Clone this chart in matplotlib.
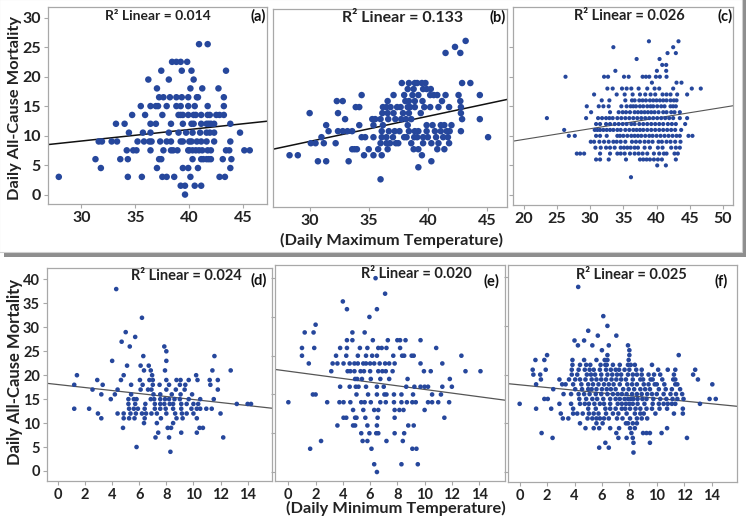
import matplotlib
matplotlib.use('Agg')
import matplotlib.pyplot as plt
from matplotlib.patches import Rectangle
import numpy as np

plt.rcParams['font.family'] = ['Lato', 'DejaVu Sans']
plt.rcParams['font.weight'] = 'bold'

# ---------------- data ----------------
# each panel: y levels and, for every level, the x values of the points on it
a_y = [25.5, 22.5, 21, 19.5, 18, 16.5, 15, 13.5, 12, 10.5, 9, 7.5, 6, 4.5, 3, 1.5, 0]
a_x = [
    [40.9, 41.7],
    [38.4, 38.8, 39.2, 39.8],
    [37.4, 39.3, 40.2, 43.4],
    [36.2, 38.1, 40.4],
    [37.0, 40.1, 41.2, 42.7],
    [37.2, 37.6, 38.2, 38.8, 39.3, 39.9, 40.7, 40.8, 43.2],
    [35.5, 36.4, 36.9, 37.1, 37.9, 38.8, 39.2, 39.9, 40.5, 41.7, 43.2],
    [34.7, 35.9, 37.5, 39.0, 39.2, 39.4, 39.9, 40.4, 40.6, 41.1, 41.7, 41.9, 42.5, 42.8, 43.2],
    [33.2, 34.0, 36.4, 36.9, 38.3, 39.4, 40.2, 40.4, 41.1, 41.6, 41.8, 42.0, 42.3, 43.8],
    [34.4, 35.7, 36.4, 38.1, 39.0, 39.7, 40.3, 41.0, 41.6, 41.9, 42.3, 44.7],
    [31.6, 31.9, 32.8, 33.3, 35.2, 35.8, 36.3, 36.5, 37.3, 37.9, 38.3, 39.2, 39.4, 40.0, 40.2,
     40.7, 41.1, 41.6, 42.3, 43.8],
    [34.2, 34.8, 35.1, 36.4, 37.6, 38.3, 38.5, 38.9, 39.9, 40.0, 40.3, 40.6, 40.9, 41.2, 41.7,
     42.0, 43.4, 43.7, 45.1, 45.6],
    [31.3, 33.6, 34.3, 37.2, 37.4, 40.3, 41.1, 41.3, 41.6, 41.8, 42.0, 43.1, 43.9],
    [31.8, 37.0, 39.4, 39.9, 40.8, 43.8],
    [27.9, 34.3, 35.6, 37.5, 37.9, 38.6, 40.1, 42.8, 43.3],
    [39.2, 39.6, 40.5, 41.1],
    [39.6],
]

b_y = [26, 25, 24, 19, 18, 17, 16, 15, 14, 13, 12, 11, 10, 9, 8, 7, 6, 5, 3]
b_x = [
    [43.2],
    [42.3],
    [41.5, 42.75],
    [37.8, 38.4, 38.9, 39.1, 39.5, 39.8, 42.9, 43.6],
    [38.3, 38.8, 39.6, 39.9, 40.25],
    [34.4, 37.1, 38.0, 38.7, 39.2, 40.2, 40.5, 40.8, 41.5, 42.6, 44.4],
    [32.3, 32.8, 36.6, 38.1, 38.4, 38.9, 39.55, 41.2, 42.75],
    [33.9, 34.2, 36.2, 36.5, 36.85, 37.4, 37.7, 38.3, 38.5, 38.9, 39.7, 40.2, 40.9, 41.8, 42.8],
    [30.0, 32.4, 36.15, 36.6, 37.1, 37.9, 38.4, 39.4, 42.8],
    [33.0, 35.3, 35.55, 36.0, 36.65, 37.25, 37.75, 38.15, 38.6, 42.9, 44.4],
    [31.4, 34.2, 35.4, 36.2, 38.3, 39.9, 40.4, 41.1, 41.4, 42.0],
    [31.6, 32.4, 32.8, 33.2, 33.6, 36.1, 36.7, 37.2, 37.6, 38.4, 38.9, 39.2, 39.9, 40.6, 41.1,
     41.6, 41.85, 42.8],
    [31.0, 34.4, 34.7, 35.4, 36.1, 36.5, 37.05, 38.0, 38.2, 38.85, 39.1, 39.6, 40.0, 40.7, 41.3,
     41.7, 45.1],
    [30.1, 30.5, 31.2, 32.2, 36.0, 36.5, 36.8, 37.3, 37.5, 38.6, 39.6, 40.3, 40.9, 41.8],
    [33.6, 33.8, 34.0, 35.0, 35.8, 36.6, 38.8, 39.2, 40.8, 41.4],
    [28.3, 29.0, 34.6, 35.4, 36.1, 39.5],
    [30.7, 31.4, 33.3, 40.3],
    [39.2],
    [36.0],
]

c_y = [26, 25, 24, 23, 22, 21, 20, 19, 18, 17, 16, 15, 14, 13, 12, 11, 10, 9, 8, 7, 6, 5, 3]
c_x = [
    [38.85, 43.3],
    [33.5, 42.5],
    [41.65, 42.9],
    [37.0, 40.45],
    [40.85, 41.45],
    [33.8, 40.05, 41.45],
    [26.3, 32.1, 32.7, 35.1, 35.8, 37.9, 38.4, 38.9, 39.9, 40.5, 41.5],
    [39.3, 43.0, 43.75],
    [32.6, 33.4, 34.8, 35.5, 36.2, 37.3, 38.6, 39.7, 40.4, 42.5, 45.3, 46.65],
    [30.6, 34.0, 35.2, 36.4, 37.5, 38.3, 39.1, 39.8, 40.9, 41.5, 42.1, 43.1, 44.6],
    [31.75, 32.9, 35.3, 36.3, 36.7, 37.4, 37.9, 38.4, 39.0, 39.5, 40.0, 40.5, 41.0, 41.5, 42.1,
     42.6, 43.0],
    [29.5, 31.3, 32.0, 32.8, 34.7, 35.5, 36.1, 36.5, 36.9, 37.5, 38.0, 38.6, 39.1, 39.5, 40.1,
     40.7, 41.2, 42.1, 42.5, 42.9],
    [30.15, 33.0, 34.3, 34.9, 35.4, 36.0, 36.7, 37.2, 37.7, 38.2, 38.7, 39.2, 39.7, 40.3, 41.0,
     41.5, 42.2, 42.7, 43.5],
    [23.5, 29.4, 31.2, 31.8, 32.4, 32.9, 33.4, 34.1, 34.7, 35.3, 35.9, 36.5, 37.1, 37.7, 38.3,
     38.9, 39.5, 40.1, 40.7, 41.3, 41.9, 42.5, 43.5, 44.6],
    [30.9, 31.5, 32.4, 33.0, 33.7, 34.3, 34.9, 35.5, 36.2, 36.7, 37.4, 38.0, 38.6, 39.2, 39.8,
     40.4, 41.0, 41.7, 42.3, 42.9, 44.3],
    [26.1, 30.7, 31.1, 31.5, 32.0, 32.5, 33.0, 33.5, 34.1, 34.6, 35.3, 35.9, 36.5, 37.0, 37.5,
     38.0, 38.6, 39.2, 39.8, 40.4, 41.0, 41.6, 42.2, 42.8, 43.7],
    [26.8, 27.7, 30.9, 31.5, 32.5, 34.1, 34.5, 35.0, 35.6, 36.2, 36.7, 37.2, 37.7, 38.3, 38.9,
     39.4, 40.0, 40.6, 41.2, 41.8, 42.4, 43.0, 43.5, 44.8, 45.4],
    [30.1, 30.6, 31.4, 32.1, 32.8, 33.5, 34.0, 34.6, 35.3, 36.3, 36.9, 37.5, 38.2, 38.8, 39.4,
     40.3, 40.8, 41.5, 42.1, 42.8, 43.6],
    [30.8, 31.6, 32.4, 33.0, 33.7, 34.6, 35.1, 35.6, 36.1, 36.7, 37.2, 38.2, 39.0, 40.2, 40.9,
     42.2, 42.9, 43.5],
    [28.0, 28.5, 29.1, 31.5, 33.0, 34.1, 34.6, 35.2, 36.0, 36.7, 37.3, 37.9, 38.6, 39.6, 40.4,
     41.1, 41.5, 42.7, 43.2],
    [30.9, 31.5, 32.8, 35.4, 37.5, 38.0, 38.5, 39.0, 39.6, 40.2, 40.8, 42.9],
    [40.1, 41.4],
    [36.15],
]

d_y = [38, 32, 29, 28, 27, 26, 25, 24, 23, 22, 21, 20, 19, 18, 17, 16, 15, 14, 13, 12, 11, 10,
       9, 8, 7, 5, 4]
d_x = [
    [4.3],
    [6.2],
    [5.0],
    [5.7],
    [4.7],
    [5.3, 7.85],
    [8.0],
    [6.3, 11.55],
    [4.0, 8.0],
    [5.1, 6.1, 6.7],
    [6.35, 6.85, 7.9, 11.4, 12.75],
    [1.4, 4.85, 6.95, 10.2],
    [2.9, 4.65, 6.05, 6.75, 7.0, 8.0, 8.75, 9.05, 9.65, 10.3, 11.2, 11.8],
    [1.2, 3.3, 5.4, 6.25, 7.0, 7.5, 8.2, 9.0, 9.4, 11.25],
    [2.55, 4.4, 6.1, 6.65, 6.9, 8.0, 8.7, 9.35, 11.8],
    [3.2, 4.2, 5.4, 7.05, 7.55, 8.4, 9.05, 9.9],
    [3.9, 5.2, 5.6, 5.8, 6.85, 7.1, 7.55, 7.9, 8.2, 8.6, 9.0, 9.65, 10.5, 11.5],
    [5.2, 5.7, 6.45, 7.15, 7.55, 7.85, 8.25, 8.5, 9.1, 9.5, 10.0, 10.35, 13.2, 14.0, 14.25],
    [1.2, 2.3, 5.25, 5.6, 5.9, 6.4, 7.15, 7.55, 7.95, 8.5, 9.1, 9.85, 10.25, 10.5, 10.95, 11.35],
    [2.95, 4.4, 4.85, 5.35, 5.75, 6.2, 6.5, 6.9, 7.3, 8.0, 8.65, 9.15, 9.5, 10.0, 12.0],
    [3.2, 4.85, 5.25, 5.65, 6.4, 7.6, 8.75, 9.2, 10.25],
    [6.35, 7.3, 8.5],
    [4.8, 8.1, 8.35, 10.45, 10.7],
    [7.4, 9.1, 10.25],
    [7.2, 8.2, 12.2],
    [5.8],
    [8.3],
]

e_y = [25, 23, 22, 21, 20, 19, 18, 17, 16, 15, 14, 13, 12, 11, 10, 9, 8, 7, 6, 5, 4, 3, 1, 0]
e_x = [
    [6.4],
    [7.1],
    [4.0],
    [4.3, 6.5],
    [5.95],
    [2.0],
    [1.2, 1.85, 4.7, 5.6],
    [4.3, 4.7, 6.2, 7.3, 8.0, 8.2, 8.6, 9.7],
    [1.0, 1.9, 3.8, 4.3, 5.25, 5.8, 6.6, 6.85, 7.2, 8.2, 10.85],
    [1.0, 3.5, 4.25, 5.1, 5.7, 6.15, 6.5, 7.7, 8.35, 8.5, 9.05, 9.2, 12.7],
    [1.5, 3.25, 3.6, 4.05, 4.5, 4.85, 5.1, 5.5, 5.7, 6.0, 6.3, 6.7, 7.1, 7.4, 7.8, 9.7, 11.3],
    [3.15, 4.35, 4.55, 4.85, 5.3, 5.55, 6.0, 6.6, 6.9, 7.15, 7.65, 9.95, 10.45, 13.0, 14.1],
    [4.9, 5.05, 5.4, 6.05, 6.75, 7.4, 8.75, 11.85],
    [3.8, 4.5, 4.95, 5.15, 5.7, 6.5, 7.0, 8.65, 9.25, 9.7, 10.0, 10.25, 11.3, 12.0],
    [1.8, 2.0, 5.0, 5.85, 6.5, 7.05, 7.2, 7.75, 8.3, 9.15, 10.55, 11.2],
    [0.0, 2.85, 3.75, 4.05, 4.55, 5.35, 5.6, 6.05, 6.75, 7.15, 7.75, 8.3, 8.7, 9.1, 9.35, 10.25,
     10.55, 11.0, 11.8],
    [4.75, 5.5, 6.3, 6.6, 7.8, 8.15, 8.45, 10.0],
    [4.05, 4.25, 4.9, 5.0, 5.65, 6.55, 7.8, 11.45],
    [3.6, 4.75, 4.9, 5.8, 6.5, 8.8, 9.2],
    [5.35, 5.95, 6.45, 6.6, 7.8, 8.5],
    [2.4, 5.45, 5.8, 7.2, 8.4],
    [1.6, 6.1, 9.1, 9.4],
    [6.3, 8.3, 9.5],
    [6.5],
]

f_y = [38, 32, 30, 29, 28, 27, 26, 25, 24, 23, 22, 21, 20, 19, 18, 17, 16, 15, 14, 13, 12, 11,
       10, 9, 8, 7, 6, 5, 4]
f_x = [
    [4.27],
    [6.1],
    [6.4],
    [5.0],
    [5.7, 7.05],
    [4.0, 4.7],
    [4.25, 5.3, 6.5, 7.9],
    [6.0, 8.0],
    [2.0, 6.4, 8.0, 11.6],
    [1.15, 1.8, 3.85, 4.7, 5.6, 6.2, 6.4, 7.95],
    [3.85, 4.4, 4.85, 5.15, 5.9, 6.25, 6.35, 6.8, 7.3, 7.9, 8.1, 8.4, 9.65],
    [0.95, 1.9, 3.8, 4.3, 4.75, 5.1, 5.4, 5.85, 6.3, 6.65, 7.0, 7.25, 7.65, 8.0, 8.5, 8.9, 10.1,
     10.8, 11.35, 12.8],
    [1.0, 1.5, 3.8, 4.2, 4.9, 5.2, 5.5, 5.95, 6.4, 6.75, 7.1, 7.4, 7.9, 8.25, 8.55, 8.9, 9.4,
     9.8, 10.25, 11.25, 12.65],
    [1.55, 2.9, 3.6, 4.05, 4.4, 4.8, 5.25, 5.6, 5.95, 6.3, 6.7, 7.05, 7.4, 7.75, 8.25, 8.8, 9.0,
     9.55, 9.7, 10.4, 11.2, 11.35, 13.0],
    [1.2, 3.1, 3.35, 3.9, 4.5, 5.0, 5.35, 5.75, 6.15, 6.5, 6.85, 7.3, 7.85, 8.2, 8.55, 9.05, 9.4,
     9.85, 10.0, 10.55, 11.35, 11.5, 14.05],
    [2.45, 4.05, 4.55, 5.0, 5.25, 5.6, 6.0, 6.35, 6.65, 7.0, 7.55, 7.95, 8.35, 8.8, 9.15, 9.5,
     10.15, 10.65, 11.1, 11.7],
    [3.2, 3.75, 4.3, 4.7, 5.1, 5.55, 5.95, 6.4, 6.8, 7.15, 7.45, 7.8, 8.2, 8.55, 8.9, 9.3, 9.65,
     10.0, 10.5, 11.0, 11.4, 11.85],
    [1.8, 2.05, 4.35, 4.85, 5.3, 5.65, 6.1, 6.6, 7.0, 7.3, 7.65, 7.9, 8.1, 8.3, 8.6, 8.95, 9.25,
     9.75, 10.25, 10.7, 11.15, 11.5, 11.95, 13.85, 14.3],
    [0.0, 2.9, 3.75, 4.4, 4.75, 5.05, 5.45, 5.85, 6.15, 6.6, 7.15, 7.45, 7.75, 8.0, 8.25, 8.6,
     9.1, 9.7, 10.15, 10.5, 10.8, 11.1, 11.35, 13.15],
    [1.2, 2.3, 3.9, 5.0, 5.55, 6.25, 6.6, 7.0, 7.45, 7.7, 8.05, 8.45, 8.8, 9.25, 9.65, 10.2,
     10.75, 11.9],
    [3.0, 3.9, 4.2, 4.6, 5.05, 5.4, 5.75, 6.3, 6.8, 7.2, 7.8, 8.4, 8.8, 9.05, 9.9, 11.25, 11.9],
    [3.15, 3.55, 4.95, 5.3, 5.6, 5.85, 6.15, 6.5, 7.1, 7.5, 8.05, 8.55, 8.9, 9.3],
    [4.4, 5.6, 6.05, 7.75, 7.9, 8.25, 8.55],
    [4.8, 5.4, 5.8, 6.6, 7.25, 8.05, 8.4, 10.75],
    [1.6, 7.05, 8.15, 9.0, 9.25, 9.5, 10.35],
    [2.4, 7.2, 7.8, 8.25, 12.2],
    [6.25, 8.3, 9.5],
    [5.8, 6.5],
    [8.3],
]

# fitted lines (intercept, slope) and the R² printed on each panel
fits = [(3.23, 0.195), (-3.23, 0.4175), (5.77, 0.181),
        (18.05, -0.313), (13.0, -0.235), (17.9, -0.278)]
r2_text = ['0.014', '0.133', '0.026', '0.024', '0.020', '0.025']
letters = ['(a)', '(b)', '(c)', '(d)', '(e)', '(f)']

# ---------------- figure ----------------
W, H = 746, 524
fig = plt.figure(figsize=(W / 100, H / 100), dpi=100)


def box(x0, y0, x1, y1):
    # pixel box, origin top-left -> [left, bottom, width, height] in figure fraction
    return [x0 / W, 1 - y1 / H, (x1 - x0) / W, (y1 - y0) / H]


def flat(levels, rows):
    xs, ys = [], []
    for y, row in zip(levels, rows):
        xs += row
        ys += [y] * len(row)
    return np.array(xs), np.array(ys)


# shadowed frame around the top row (behind the axes)
fig.patches.append(Rectangle((4 / W, 1 - 257 / H), 742 / W, 257 / H, transform=fig.transFigure,
                             facecolor='#8e8e8e', edgecolor='none', zorder=-2))
fig.patches.append(Rectangle((-1 / W, 1 - 252 / H), 743 / W, 253 / H, transform=fig.transFigure,
                             facecolor='white', edgecolor='#cfcfcf', lw=0.8, zorder=-1))

panels = [
    dict(data=(a_y, a_x), pos=(48, 7, 267, 204), xlim=(26.9, 47.2), ylim=(-1.6, 31.8),
         xt=[30, 35, 40, 45], yt=[0, 5, 10, 15, 20, 25, 30], ylab=True, s=22, fs=11.5,
         line=('#111111', 1.1), r2=(158, 16.5, 10), let=(258, 16.5)),
    dict(data=(b_y, b_x), pos=(273, 9, 507, 207), xlim=(26.9, 46.7), ylim=(-1.6, 31.3),
         xt=[30, 35, 40, 45], yt=[], ylab=False, s=22, fs=11.5,
         line=('#111111', 1.1), r2=(403, 17.5, 11.5), let=(498, 17)),
    dict(data=(c_y, c_x), pos=(513, 7, 733, 205), xlim=(18.4, 51.5), ylim=(-1.7, 31.8),
         xt=[20, 25, 30, 35, 40, 45, 50], yt=[0, 5, 10, 15, 20, 25], ylab=False, s=9, fs=11.5,
         line=('#555555', 0.8), r2=(629, 15.5, 10.5), let=(725, 16)),
    dict(data=(d_y, d_x), pos=(47, 268, 272, 481), xlim=(-0.81, 15.8), ylim=(-2.1, 42.4),
         xt=list(range(0, 15, 2)), yt=list(range(0, 41, 5)), ylab=True, s=11, fs=10.5,
         line=('#555555', 0.9), r2=(186, 276.5, 10.5), let=(259, 280)),
    dict(data=(e_y, e_x), pos=(275, 265, 505, 481), xlim=(-0.98, 15.9), ylim=(-1.16, 26.7),
         xt=list(range(0, 15, 2)), yt=[0, 5, 10, 15, 20, 25], ylab=False, s=11, fs=10.5,
         line=('#555555', 0.9), r2=(416, 274, 10.5), let=(491, 281)),
    dict(data=(f_y, f_x), pos=(508, 265, 737, 482), xlim=(-0.85, 15.85), ylim=(-2.05, 42.5),
         xt=list(range(0, 15, 2)), yt=[0, 10, 20, 30, 40], ylab=False, s=11, fs=10.5,
         line=('#555555', 0.9), r2=(631, 275, 10.5), let=(721, 281)),
]

for p, (b0, m), r2, let in zip(panels, fits, r2_text, letters):
    ax = fig.add_axes(box(*p['pos']))
    x, y = flat(*p['data'])
    ax.scatter(x, y, s=p['s'], color='#26479c', edgecolors='none', zorder=3)
    ax.axline((0, b0), slope=m, color=p['line'][0], lw=p['line'][1], zorder=2)
    ax.set_xlim(*p['xlim'])
    ax.set_ylim(*p['ylim'])
    ax.set_xticks(p['xt'])
    ax.set_yticks(p['yt'])
    if not p['ylab']:
        ax.set_yticklabels([])
    for sp in ax.spines.values():
        sp.set_color('#a8a8a8')
        sp.set_linewidth(0.9)
    ax.tick_params(direction='out', length=3, width=0.8, color='#a8a8a8',
                   labelsize=p['fs'], pad=2, labelcolor='#222222')
    for t in ax.get_xticklabels() + ax.get_yticklabels():
        t.set_fontweight('bold')
    fig.text(p['r2'][0] / W, 1 - p['r2'][1] / H, 'R² Linear = ' + r2, ha='center', va='center',
             fontsize=p['r2'][2], fontweight='bold', color='#222222')
    fig.text(p['let'][0] / W, 1 - p['let'][1] / H, let, ha='center', va='center',
             fontsize=10.5, fontweight='bold', color='#111111')

fig.text(15 / W, 1 - 108 / H, 'Daily All-Cause Mortality', rotation=90, ha='center', va='center',
         fontsize=11.8, fontweight='bold', color='#222222')
fig.text(15 / W, 1 - 372 / H, 'Daily All-Cause Mortality', rotation=90, ha='center', va='center',
         fontsize=12, fontweight='bold', color='#222222')
fig.text(392 / W, 1 - 240 / H, '(Daily Maximum Temperature)', ha='center', va='center',
         fontsize=11.8, fontweight='bold', color='#222222')
fig.text(396 / W, 1 - 508 / H, '(Daily Minimum Temperature)', ha='center', va='center',
         fontsize=11.8, fontweight='bold', color='#222222')

fig.savefig('out.png', dpi=100)
